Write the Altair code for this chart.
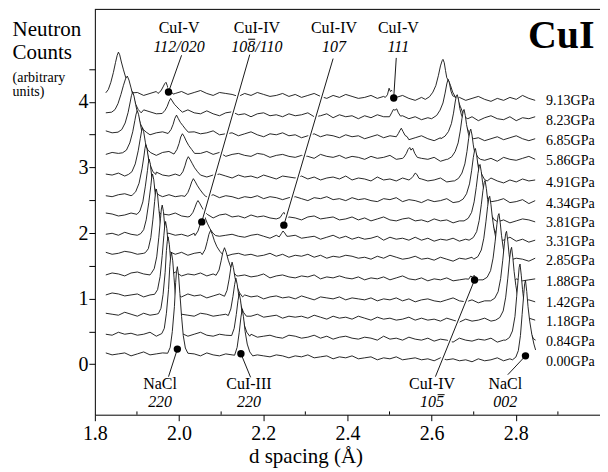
import altair as alt
import pandas as pd

X_DOMAIN = [1.8, 3.0]
Y_DOMAIN = [-0.77, 5.41]
FONT = "Liberation Serif"

pressure_labels = ["9.13GPa", "8.23GPa", "6.85GPa", "5.86GPa", "4.91GPa", "4.34GPa", "3.81GPa",
                   "3.31GPa", "2.85GPa", "1.88GPa", "1.42GPa", "1.18GPa", "0.84GPa", "0.00GPa"]
trace_baselines = [4.128, 3.833, 3.528, 3.214, 2.884, 2.569, 2.275,
                   1.981, 1.691, 1.376, 1.056, 0.762, 0.457, 0.157]

GRID_START = 1.826
GRID_STEP = 0.015
NOISE_UNIT = 0.015

# baseline wiggles (units of NOISE_UNIT)
noise_913 = [1,-1,2,0,3,1,-2,0,2,1, -1,0,2,-1,1,3,0,-2,1,0, -1,-3,0,-2,1,-1,-3,-2,0,-3,
             -1,-4,-2,0,-3,-5,-2,-4,-1,-3, -5,-4,-2,-5,-3,-6,-4,-2,-5,-7, -4,-6,-3,-5,-8,-6,-4,-7,-5,-3,
             -6,-8,-5,-7,-4,-6,-2,-5,-7]
noise_823 = [0,2,-1,1,-2,0,3,1,-1,2, 0,-2,1,3,0,-1,2,-1,-3,0, 1,-2,-1,-4,-1,0,-3,-2,-4,-1,
             -3,-2,0,-4,-3,-1,-5,-2,-4,-3, -6,-3,-5,-2,-4,-7,-5,-3,-6,-4, -7,-5,-8,-6,-3,-7,-5,-6,-4,-8,
             -5,-3,-6,-7,-4,-8,-5,-6,-4]
noise_685 = [2,0,-1,1,3,0,2,-2,0,1, -1,2,0,-2,1,-1,0,2,-2,-1, 0,-3,-1,1,-2,-4,-1,-2,0,-3,
             -2,-5,-3,-1,-4,-2,-3,-5,-2,-4, -3,-6,-4,-2,-5,-3,-6,-4,-7,-5, -3,-6,-8,-5,-7,-4,-6,-3,-7,-5,
             -8,-6,-4,-7,-5,-3,-6,-8,-6]
noise_586 = [-1,1,0,2,-1,1,3,0,-2,1, 2,0,-1,1,-2,0,2,-1,1,-3, -1,0,-2,-3,0,-1,-4,-2,-1,-3,
             -4,-2,-3,-5,-1,-3,-4,-2,-5,-3, -4,-6,-3,-5,-4,-2,-6,-5,-3,-7, -5,-6,-4,-8,-6,-5,-3,-7,-6,-4,
             -7,-5,-8,-4,-6,-7,-5,-3,-6]
noise_491 = [1,0,2,-1,0,1,-2,1,3,0, -1,1,-2,0,2,-1,-2,0,1,-1, -3,0,-2,-1,-3,0,-2,-4,-1,-2,
             -3,-1,-4,-2,-5,-3,-2,-4,-1,-5, -3,-4,-6,-2,-5,-4,-6,-3,-5,-7, -4,-6,-5,-3,-7,-6,-8,-4,-6,-5,
             -7,-3,-6,-8,-5,-7,-4,-6,-5]
noise_434 = [0,-1,1,2,0,-2,1,0,2,-1, 1,-1,0,2,-2,0,-1,1,-2,0, -1,-3,-1,-2,0,-3,-1,-2,-4,-2,
             -1,-3,-5,-2,-3,-1,-4,-3,-5,-2, -4,-3,-5,-6,-3,-4,-2,-6,-4,-5, -7,-4,-6,-5,-3,-7,-5,-8,-6,-4,
             -6,-7,-5,-3,-7,-6,-4,-8,-5]
noise_381 = [2,1,-1,0,2,-1,1,0,-2,1, 0,2,-1,-2,1,0,-1,-3,0,1, -2,-1,-3,0,-2,-1,-3,-4,-1,-2,
             -3,-5,-2,-1,-4,-3,-2,-5,-4,-2, -5,-3,-6,-4,-2,-5,-6,-4,-3,-6, -5,-7,-4,-6,-5,-8,-6,-3,-5,-7,
             -6,-4,-7,-5,-8,-6,-4,-5,-7]
noise_331 = [0,1,-1,2,0,-1,1,-2,0,2, 1,-1,0,-2,1,-1,2,0,-2,-1, 0,-2,-3,-1,0,-2,-4,-1,-3,-2,
             -1,-4,-3,-2,-5,-3,-1,-4,-2,-5, -3,-5,-4,-2,-6,-3,-5,-4,-6,-3, -6,-4,-7,-5,-6,-4,-7,-5,-8,-6,
             -4,-7,-5,-6,-3,-7,-5,-8,-6]
noise_285 = [1,-1,0,2,1,-1,0,-2,1,0, 2,-1,1,-2,0,1,-1,-2,0,-3, -1,0,-2,-1,-3,-2,0,-3,-1,-4,
             -2,-3,-1,-4,-2,-5,-3,-4,-2,-3, -5,-4,-6,-3,-5,-2,-4,-6,-5,-3, -6,-5,-7,-4,-6,-8,-5,-6,-4,-7,
             -5,-8,-6,-4,-7,-5,-6,-8,-5]
noise_188 = [-1,1,0,-2,1,2,0,-1,1,-1, 0,2,-2,0,-1,1,-2,0,-1,-3, 0,-2,-1,-3,-2,0,-4,-2,-1,-3,
             -4,-2,-3,-1,-5,-3,-4,-2,-4,-5, -3,-6,-4,-5,-3,-6,-4,-2,-5,-6, -4,-7,-5,-6,-4,-7,-6,-5,-8,-6,
             -5,-7,-4,-6,-8,-5,-7,-6,-5]
noise_142 = [0,2,1,-1,0,1,-2,0,2,-1, 1,0,-2,1,-1,0,-3,-1,1,-2, -1,-3,0,-2,-1,-4,-2,-1,-3,-2,
             -4,-1,-3,-5,-2,-3,-4,-2,-5,-3, -4,-5,-3,-6,-4,-5,-3,-6,-4,-7, -5,-4,-6,-7,-5,-3,-6,-7,-5,-8,
             -6,-5,-7,-4,-6,-8,-6,-5,-7]
noise_118 = [1,0,-1,2,0,-2,1,-1,0,2, -1,1,0,-1,-2,1,0,-2,-1,0, -2,-1,-3,-2,0,-3,-2,-1,-4,-2,
             -3,-2,-4,-1,-3,-5,-2,-4,-3,-5, -2,-4,-6,-3,-5,-4,-6,-5,-3,-6, -4,-6,-5,-7,-4,-6,-8,-5,-7,-6,
             -4,-7,-5,-8,-6,-5,-7,-4,-6]
noise_084 = [0,-1,2,0,1,-1,0,2,-2,1, 0,-1,1,-2,0,2,-1,-2,0,-1, -3,-1,-2,0,-3,-2,-1,-3,-4,-1,
             -2,-4,-3,-1,-4,-2,-5,-3,-2,-4, -5,-3,-4,-6,-2,-5,-4,-6,-3,-5, -6,-4,-7,-5,-6,-8,-4,-6,-7,-5,
             -6,-4,-8,-6,-5,-7,-5,-6,-4]
noise_000 = [1,-1,0,1,-2,0,2,-1,0,1, -1,0,2,-1,0,-2,1,-1,-2,0, -1,-2,0,-3,-1,-2,-3,-1,-2,-4,
             -2,-3,-1,-4,-3,-2,-5,-3,-4,-2, -5,-4,-3,-6,-4,-5,-3,-6,-5,-4, -6,-5,-7,-4,-6,-5,-7,-6,-8,-5,
             -7,-6,-4,-7,-5,-6,-8,-5,-6]

# peak profiles (d spacing, height above the trace's left baseline)
peaks_913 = [
    [(1.826,0.01),(1.832,0.06),(1.838,0.17),(1.844,0.32),(1.849,0.47),(1.853,0.58),(1.856,0.63),(1.859,0.59),
     (1.863,0.48),(1.868,0.36),(1.873,0.25),(1.879,0.14),(1.885,0.06),(1.891,0.01)],
    [(1.950,0.0),(1.957,0.04),(1.962,0.10),(1.966,0.15),(1.969,0.17),(1.972,0.12),(1.976,0.05),(1.981,0.03),(1.986,-0.01)],
    [(2.490,-0.06),(2.495,-0.02),(2.499,0.08),(2.502,0.03),(2.506,0.05),(2.511,-0.04),(2.516,-0.06)],
    [(2.585,-0.09),(2.595,-0.05),(2.603,0.02),(2.610,0.12),(2.616,0.27),(2.621,0.42),(2.625,0.50),(2.627,0.52),
     (2.630,0.47),(2.633,0.35),(2.636,0.24),(2.640,0.20),(2.645,0.12),(2.650,0.02),(2.656,-0.05),(2.662,-0.08)],
]
peaks_823 = [
    [(1.840,0.01),(1.848,0.05),(1.855,0.14),(1.862,0.28),(1.868,0.42),(1.873,0.52),(1.877,0.56),(1.881,0.50),
     (1.886,0.38),(1.891,0.25),(1.897,0.13),(1.903,0.05),(1.910,0.0)],
    [(1.960,-0.01),(1.967,0.04),(1.972,0.10),(1.976,0.17),(1.980,0.22),(1.984,0.18),(1.989,0.13),(1.995,0.09),(2.001,0.05),(2.008,0.01)],
    [(2.500,-0.06),(2.505,0.0),(2.509,0.05),(2.513,0.04),(2.517,0.06),(2.521,0.0),(2.526,-0.05)],
    [(2.600,-0.09),(2.612,-0.04),(2.620,0.04),(2.627,0.15),(2.632,0.30),(2.636,0.44),(2.639,0.51),(2.642,0.46),
     (2.646,0.33),(2.650,0.26),(2.656,0.24),(2.662,0.20),(2.668,0.10),(2.674,0.0),(2.680,-0.07),(2.686,-0.09)],
]
peaks_685 = [
    [(1.855,0.01),(1.864,0.05),(1.872,0.15),(1.879,0.31),(1.884,0.47),(1.887,0.57),(1.890,0.62),(1.893,0.56),
     (1.897,0.43),(1.902,0.28),(1.908,0.14),(1.915,0.05),(1.922,0.01)],
    [(1.974,-0.01),(1.981,0.05),(1.986,0.13),(1.990,0.22),(1.994,0.27),(1.998,0.22),(2.003,0.16),(2.009,0.11),(2.015,0.06),(2.022,0.01)],
    [(2.516,-0.06),(2.521,-0.01),(2.525,0.04),(2.528,0.07),(2.532,0.02),(2.537,-0.04),(2.542,-0.06)],
    [(2.622,-0.09),(2.632,-0.05),(2.640,0.02),(2.647,0.14),(2.652,0.30),(2.656,0.47),(2.659,0.57),(2.661,0.58),
     (2.664,0.50),(2.667,0.37),(2.671,0.27),(2.676,0.20),(2.682,0.10),(2.688,0.02),(2.694,-0.06),(2.700,-0.09)],
]
peaks_586 = [
    [(1.866,0.01),(1.875,0.05),(1.883,0.16),(1.890,0.33),(1.895,0.50),(1.898,0.60),(1.901,0.65),(1.904,0.59),
     (1.908,0.45),(1.913,0.29),(1.919,0.15),(1.926,0.05),(1.933,0.01)],
    [(1.988,-0.01),(1.995,0.06),(2.000,0.15),(2.004,0.25),(2.008,0.30),(2.012,0.26),(2.017,0.19),(2.023,0.12),(2.030,0.06),(2.037,0.0)],
    [(2.534,-0.06),(2.540,0.0),(2.544,0.06),(2.548,0.09),(2.551,0.05),(2.555,0.08),(2.560,0.0),(2.566,-0.06)],
    [(2.638,-0.09),(2.648,-0.05),(2.656,0.03),(2.663,0.16),(2.668,0.34),(2.672,0.53),(2.675,0.64),(2.677,0.67),
     (2.680,0.58),(2.683,0.44),(2.687,0.31),(2.692,0.20),(2.698,0.10),(2.704,0.01),(2.710,-0.06),(2.716,-0.09)],
]
peaks_491 = [
    [(1.880,0.01),(1.888,0.05),(1.896,0.17),(1.903,0.37),(1.908,0.56),(1.911,0.67),(1.913,0.72),(1.916,0.66),
     (1.920,0.50),(1.925,0.32),(1.931,0.16),(1.938,0.05),(1.945,0.01)],
    [(2.002,-0.01),(2.009,0.05),(2.014,0.14),(2.018,0.23),(2.022,0.28),(2.026,0.24),(2.031,0.18),(2.037,0.11),(2.044,0.05),(2.051,0.0)],
    [(2.550,-0.06),(2.556,-0.02),(2.561,0.03),(2.565,0.01),(2.570,-0.05)],
    [(2.654,-0.09),(2.664,-0.05),(2.672,0.03),(2.679,0.17),(2.684,0.36),(2.688,0.56),(2.691,0.67),(2.693,0.70),
     (2.696,0.61),(2.699,0.46),(2.703,0.32),(2.708,0.20),(2.714,0.09),(2.720,0.0),(2.726,-0.07),(2.732,-0.09)],
]
peaks_434 = [
    [(1.889,0.01),(1.897,0.06),(1.905,0.19),(1.912,0.41),(1.917,0.62),(1.919,0.72),(1.921,0.78),(1.924,0.71),
     (1.928,0.54),(1.933,0.34),(1.939,0.17),(1.945,0.06),(1.952,0.01)],
    [(2.014,-0.01),(2.021,0.05),(2.026,0.13),(2.030,0.21),(2.034,0.26),(2.038,0.22),(2.043,0.16),(2.049,0.10),(2.056,0.04),(2.063,-0.01)],
    [(2.665,-0.09),(2.675,-0.05),(2.683,0.03),(2.690,0.18),(2.695,0.38),(2.699,0.58),(2.702,0.69),(2.704,0.72),
     (2.707,0.62),(2.710,0.47),(2.714,0.32),(2.719,0.19),(2.725,0.08),(2.731,0.0),(2.737,-0.07),(2.743,-0.09)],
]
peaks_381 = [
    [(1.900,0.01),(1.907,0.06),(1.914,0.20),(1.920,0.44),(1.925,0.68),(1.927,0.79),(1.929,0.85),(1.932,0.77),
     (1.935,0.59),(1.940,0.37),(1.945,0.18),(1.951,0.06),(1.957,0.01)],
    [(2.026,-0.02),(2.033,0.04),(2.038,0.12),(2.042,0.19),(2.045,0.22),(2.049,0.18),(2.054,0.12),(2.060,0.06),(2.067,0.01)],
    [(2.240,-0.04),(2.245,0.01),(2.249,0.04),(2.253,0.0),(2.258,-0.04)],
    [(2.677,-0.09),(2.687,-0.05),(2.695,0.04),(2.701,0.20),(2.706,0.42),(2.710,0.63),(2.713,0.74),(2.715,0.77),
     (2.718,0.66),(2.721,0.50),(2.725,0.34),(2.730,0.20),(2.736,0.08),(2.742,0.0),(2.748,-0.07),(2.754,-0.09)],
]
peaks_331 = [
    [(1.909,0.01),(1.916,0.07),(1.922,0.22),(1.928,0.48),(1.933,0.74),(1.935,0.86),(1.937,0.92),(1.940,0.83),
     (1.943,0.64),(1.948,0.40),(1.953,0.20),(1.959,0.06),(1.965,0.01)],
    [(2.038,-0.02),(2.045,0.05),(2.050,0.15),(2.054,0.25),(2.058,0.30),(2.062,0.25),(2.067,0.17),(2.073,0.09),(2.080,0.02),(2.087,-0.02)],
    [(2.238,-0.04),(2.243,0.01),(2.247,0.05),(2.251,0.02),(2.256,-0.03)],
    [(2.689,-0.09),(2.699,-0.05),(2.707,0.04),(2.713,0.21),(2.718,0.45),(2.722,0.67),(2.725,0.79),(2.727,0.82),
     (2.730,0.70),(2.733,0.53),(2.737,0.36),(2.742,0.21),(2.748,0.09),(2.754,0.0),(2.760,-0.07),(2.766,-0.09)],
]
peaks_285 = [
    [(1.920,0.01),(1.927,0.07),(1.933,0.24),(1.938,0.52),(1.942,0.79),(1.944,0.92),(1.946,0.98),(1.949,0.89),
     (1.952,0.68),(1.956,0.43),(1.961,0.21),(1.967,0.07),(1.973,0.01)],
    [(2.055,-0.02),(2.062,0.06),(2.067,0.18),(2.071,0.29),(2.075,0.35),(2.079,0.29),(2.084,0.19),(2.090,0.10),(2.097,0.03),(2.104,-0.02)],
    [(2.700,-0.09),(2.710,-0.05),(2.718,0.05),(2.724,0.23),(2.729,0.48),(2.733,0.71),(2.736,0.84),(2.738,0.87),
     (2.741,0.74),(2.744,0.56),(2.748,0.38),(2.753,0.22),(2.759,0.09),(2.765,0.0),(2.771,-0.07),(2.777,-0.09)],
]
peaks_188 = [
    [(1.934,0.01),(1.941,0.08),(1.947,0.26),(1.952,0.56),(1.956,0.85),(1.958,0.99),(1.960,1.05),(1.963,0.95),
     (1.966,0.73),(1.970,0.46),(1.975,0.22),(1.981,0.07),(1.987,0.01)],
    [(2.088,-0.02),(2.095,0.06),(2.100,0.20),(2.104,0.33),(2.108,0.40),(2.112,0.33),(2.117,0.21),(2.123,0.10),(2.130,0.02),(2.137,-0.03)],
    [(2.688,-0.08),(2.693,-0.03),(2.697,-0.05),(2.701,-0.02),(2.706,-0.07)],
    [(2.722,-0.09),(2.732,-0.05),(2.740,0.05),(2.746,0.24),(2.751,0.50),(2.755,0.75),(2.758,0.89),(2.760,0.92),
     (2.763,0.78),(2.766,0.59),(2.770,0.40),(2.775,0.23),(2.781,0.10),(2.787,0.0),(2.793,-0.07),(2.799,-0.09)],
]
peaks_142 = [
    [(1.942,0.01),(1.949,0.08),(1.955,0.28),(1.960,0.60),(1.964,0.91),(1.966,1.05),(1.968,1.12),(1.971,1.01),
     (1.974,0.78),(1.978,0.49),(1.983,0.24),(1.989,0.07),(1.995,0.01)],
    [(2.108,-0.02),(2.114,0.07),(2.119,0.24),(2.123,0.41),(2.126,0.50),(2.129,0.42),(2.133,0.26),(2.138,0.12),(2.144,0.03),(2.151,-0.03)],
    [(2.740,-0.09),(2.750,-0.05),(2.758,0.05),(2.764,0.25),(2.769,0.53),(2.773,0.79),(2.776,0.94),(2.778,0.97),
     (2.781,0.82),(2.784,0.62),(2.788,0.42),(2.793,0.24),(2.799,0.10),(2.805,0.0),(2.811,-0.07),(2.817,-0.09)],
]
peaks_118 = [
    [(1.951,0.01),(1.957,0.09),(1.962,0.30),(1.967,0.64),(1.970,0.97),(1.972,1.11),(1.974,1.18),(1.977,1.06),
     (1.980,0.82),(1.984,0.51),(1.988,0.25),(1.993,0.08),(1.999,0.01)],
    [(2.117,-0.02),(2.123,0.08),(2.128,0.27),(2.132,0.45),(2.135,0.55),(2.138,0.46),(2.142,0.28),(2.147,0.13),(2.153,0.03),(2.160,-0.03)],
    [(2.752,-0.09),(2.762,-0.05),(2.770,0.05),(2.776,0.26),(2.781,0.55),(2.785,0.83),(2.788,0.98),(2.790,1.02),
     (2.793,0.86),(2.796,0.65),(2.800,0.44),(2.805,0.25),(2.811,0.10),(2.817,0.0),(2.823,-0.07),(2.829,-0.09)],
]
peaks_084 = [
    [(1.959,0.01),(1.965,0.09),(1.970,0.32),(1.975,0.68),(1.978,1.03),(1.980,1.18),(1.982,1.25),(1.985,1.12),
     (1.988,0.87),(1.992,0.54),(1.996,0.26),(2.001,0.08),(2.007,0.01)],
    [(2.125,-0.02),(2.131,0.09),(2.136,0.30),(2.140,0.51),(2.143,0.62),(2.146,0.52),(2.150,0.31),(2.155,0.14),(2.161,0.03),(2.168,-0.03)],
    [(2.776,-0.09),(2.785,-0.05),(2.792,0.05),(2.798,0.27),(2.802,0.57),(2.806,0.87),(2.808,1.02),(2.810,1.07),
     (2.813,0.90),(2.816,0.68),(2.820,0.46),(2.825,0.26),(2.831,0.10),(2.837,0.0),(2.842,-0.07),(2.847,-0.09)],
]
peaks_000 = [
    [(1.973,0.01),(1.979,0.10),(1.984,0.34),(1.989,0.72),(1.992,1.09),(1.994,1.26),(1.996,1.33),(1.999,1.19),
     (2.002,0.92),(2.006,0.57),(2.010,0.28),(2.015,0.09),(2.021,0.01)],
    [(2.132,-0.02),(2.138,0.10),(2.143,0.33),(2.147,0.56),(2.150,0.68),(2.153,0.57),(2.157,0.34),(2.162,0.15),(2.168,0.03),(2.175,-0.03)],
    [(2.792,-0.09),(2.800,-0.05),(2.806,0.05),(2.811,0.28),(2.815,0.60),(2.819,0.92),(2.821,1.07),(2.823,1.12),
     (2.826,0.95),(2.829,0.72),(2.833,0.50),(2.838,0.30),(2.843,0.15),(2.847,0.06)],
]

all_noise = [noise_913, noise_823, noise_685, noise_586, noise_491, noise_434, noise_381,
             noise_331, noise_285, noise_188, noise_142, noise_118, noise_084, noise_000]
all_peaks = [peaks_913, peaks_823, peaks_685, peaks_586, peaks_491, peaks_434, peaks_381,
             peaks_331, peaks_285, peaks_188, peaks_142, peaks_118, peaks_084, peaks_000]

# annotations
ann_names = ["CuI-V", "CuI-IV", "CuI-IV", "CuI-V", "NaCl", "CuI-III", "CuI-IV", "NaCl"]
ann_hkl = ["112/020", "108/110", "107", "111", "220", "220", "105", "002"]
ann_x = [2.0, 2.185, 2.368, 2.521, 1.955, 2.166, 2.601, 2.775]
ann_name_y = [5.047, 5.047, 5.047, 5.047, -0.376, -0.376, -0.376, -0.376]
ann_hkl_y = [4.762, 4.762, 4.762, 4.762, -0.658, -0.658, -0.658, -0.658]
# overbars of the negative Miller indices (the 8 of 108 and the 5 of 105)
bar_x = [2.1643, 2.6142]
bar_x2 = [2.1809, 2.6308]
bar_y = [4.955, -0.465]
dot_x = [1.975, 2.054, 2.249, 2.510, 1.996, 2.147, 2.702, 2.823]
dot_y = [4.15, 2.17, 2.12, 4.06, 0.23, 0.16, 1.285, 0.127]
lead_x = [2.006, 2.168, 2.366, 2.516, 1.975, 2.170, 2.609, 2.781]
lead_y = [4.71, 4.72, 4.66, 4.67, -0.19, -0.20, -0.19, -0.16]

side_text = ["Neutron", "Counts", "(arbitrary", "units)"]
side_y = [5.0, 4.66, 4.31, 4.09]
side_size = [21, 21, 14, 14]
SIDE_X = 1.6046

minor_ticks = [1.9, 2.1, 2.3, 2.5, 2.7, 2.9]
LABEL_X = 2.872


def trace_frame(base, noise, segments):
    spans = [(seg[0][0], seg[-1][0]) for seg in segments]
    pts = []
    for i, n in enumerate(noise):
        xv = round(GRID_START + GRID_STEP * i, 4)
        if any(lo <= xv <= hi for lo, hi in spans):
            continue
        pts.append((xv, n * NOISE_UNIT))
    for seg in segments:
        pts.extend(seg)
    pts.sort(key=lambda p: p[0])
    return pd.DataFrame({
        "x": [p[0] for p in pts],
        "y": [base + p[1] for p in pts],
        "y0": [base - 0.15] * len(pts),
    })


x_axis = alt.Axis(values=[1.8, 2.0, 2.2, 2.4, 2.6, 2.8], format=".1f", title="d spacing (Å)",
                  tickSize=6, labelPadding=3, labelFontSize=20, titleFontSize=21,
                  titleFontWeight="normal", titleX=211, titleY=48, titleBaseline="alphabetic",
                  grid=False, domainColor="black", tickColor="black", labelColor="black",
                  titleColor="black", labelFont=FONT, titleFont=FONT, labelFlush=False)
y_axis = alt.Axis(values=[0, 0.5, 1, 1.5, 2, 2.5, 3, 3.5, 4, 4.5],
                  labelExpr="datum.value % 1 == 0 ? format(datum.value, 'd') : ''",
                  title=None, tickSize=6, labelPadding=1, labelFontSize=20, grid=False,
                  domainColor="black", tickColor="black", labelColor="black", labelFont=FONT)
x_scale = alt.Scale(domain=X_DOMAIN, nice=False, zero=False)
y_scale = alt.Scale(domain=Y_DOMAIN, nice=False, zero=False)


def X(field="x"):
    return alt.X(f"{field}:Q", scale=x_scale, axis=x_axis)


def Y(field="y"):
    return alt.Y(f"{field}:Q", scale=y_scale, axis=y_axis)


layers = []
for base, noise, segs in zip(trace_baselines, all_noise, all_peaks):
    df = trace_frame(base, noise, segs)
    c = alt.Chart(df)
    layers.append(c.mark_area(color="white", opacity=1, interpolate="linear").encode(
        x=X(), y=Y(), y2=alt.Y2("y0:Q")))
    layers.append(c.mark_line(color="#111111", strokeWidth=0.9, interpolate="linear").encode(
        x=X(), y=Y()))

# frame top
top_df = pd.DataFrame({"x": [X_DOMAIN[0]], "x2": [X_DOMAIN[1]], "y": [Y_DOMAIN[1]]})
layers.append(alt.Chart(top_df).mark_rule(color="black", strokeWidth=1).encode(
    x=X(), x2=alt.X2("x2:Q"), y=Y()))

# minor ticks on the bottom axis
mt_df = pd.DataFrame({"x": minor_ticks, "y": [Y_DOMAIN[0]] * len(minor_ticks),
                      "y2": [Y_DOMAIN[0] + 0.05] * len(minor_ticks)})
layers.append(alt.Chart(mt_df).mark_rule(color="black", strokeWidth=1).encode(
    x=X(), y=Y(), y2=alt.Y2("y2:Q")))

# leader lines with white halo
lead_df = pd.DataFrame({"x": lead_x, "y": lead_y, "x2": dot_x, "y2": dot_y})
layers.append(alt.Chart(lead_df).mark_rule(color="white", strokeWidth=4).encode(
    x=X(), y=Y(), x2=alt.X2("x2:Q"), y2=alt.Y2("y2:Q")))
layers.append(alt.Chart(lead_df).mark_rule(color="black", strokeWidth=0.9).encode(
    x=X(), y=Y(), x2=alt.X2("x2:Q"), y2=alt.Y2("y2:Q")))

dot_df = pd.DataFrame({"x": dot_x, "y": dot_y})
layers.append(alt.Chart(dot_df).mark_circle(color="black", opacity=1, size=55).encode(
    x=X(), y=Y()))

name_df = pd.DataFrame({"x": ann_x, "y": ann_name_y, "t": ann_names})
layers.append(alt.Chart(name_df).mark_text(font=FONT, fontSize=16, color="black", align="center",
                                           baseline="alphabetic").encode(x=X(), y=Y(), text="t:N"))
hkl_df = pd.DataFrame({"x": ann_x, "y": ann_hkl_y, "t": ann_hkl})
layers.append(alt.Chart(hkl_df).mark_text(font=FONT, fontSize=16, fontStyle="italic", color="black",
                                          align="center", baseline="alphabetic").encode(
    x=X(), y=Y(), text="t:N"))
bar_df = pd.DataFrame({"x": bar_x, "x2": bar_x2, "y": bar_y})
layers.append(alt.Chart(bar_df).mark_rule(color="black", strokeWidth=1).encode(
    x=X(), x2=alt.X2("x2:Q"), y=Y()))

press_df = pd.DataFrame({"x": [LABEL_X] * len(pressure_labels),
                         "y": [b - 0.12 for b in trace_baselines], "t": pressure_labels})
layers.append(alt.Chart(press_df).mark_text(font=FONT, fontSize=14, color="black", align="left",
                                            baseline="middle").encode(x=X(), y=Y(), text="t:N"))

side_df = pd.DataFrame({"x": [SIDE_X] * len(side_text), "y": side_y, "t": side_text, "s": side_size})
layers.append(alt.Chart(side_df).mark_text(font=FONT, color="black", align="left",
                                           baseline="alphabetic").encode(
    x=X(), y=Y(), text="t:N", size=alt.Size("s:Q", scale=None, legend=None)))

big_df = pd.DataFrame({"x": [2.908], "y": [4.814], "t": ["CuI"]})
layers.append(alt.Chart(big_df).mark_text(font=FONT, fontSize=40, fontWeight="bold", color="black",
                                          align="center", baseline="alphabetic").encode(
    x=X(), y=Y(), text="t:N"))

chart = alt.layer(*layers).properties(
    width=506, height=406,
    autosize=alt.AutoSizeParams(type="none"),
    padding={"left": 87, "top": 1, "right": 0, "bottom": 53},
).configure_view(stroke="transparent")

chart.save("out.html", embed_options={"renderer": "svg", "actions": False})
